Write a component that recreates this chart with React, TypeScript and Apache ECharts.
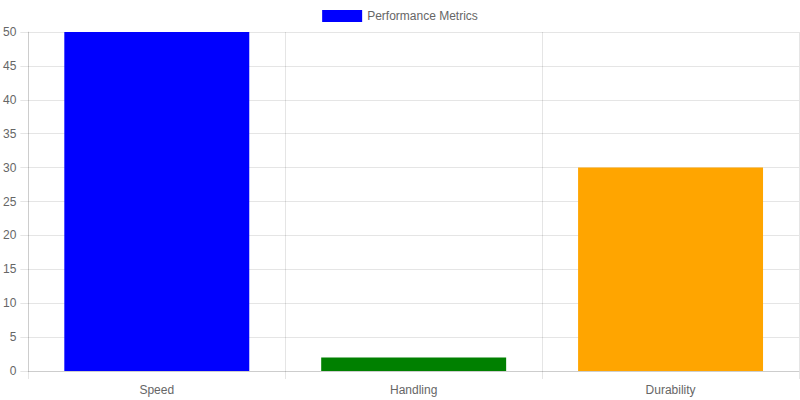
import React, { useEffect, useRef } from 'react';
import * as echarts from 'echarts';

const categories = ['Speed', 'Handling', 'Durability'];
const values = [50, 2, 30];
const barColors = ['#0000ff', '#008000', '#ffa500'];
const seriesName = 'Performance Metrics';

const gridColor = 'rgba(0,0,0,0.1)';
const labelColor = '#666';
const font = '"Liberation Sans", Arial, Helvetica, sans-serif';

const App: React.FC = () => {
  const chartRef = useRef<HTMLDivElement>(null);

  useEffect(() => {
    document.body.style.margin = '0';
    if (!chartRef.current) return;
    const chart = echarts.init(chartRef.current, undefined, { renderer: 'svg' });

    chart.setOption({
      animation: false,
      textStyle: { fontFamily: font },
      legend: {
        top: 10,
        left: 'center',
        padding: 0,
        itemWidth: 40,
        itemHeight: 12,
        itemGap: 10,
        icon: 'rect',
        textStyle: { color: labelColor, fontSize: 12, fontFamily: font },
        data: [seriesName],
      },
      grid: { left: 28, right: 1, top: 32, bottom: 29, containLabel: false },
      xAxis: {
        type: 'category',
        data: categories,
        axisLine: { show: true, lineStyle: { color: gridColor } },
        axisTick: { show: true, length: 8, lineStyle: { color: gridColor } },
        axisLabel: { color: labelColor, fontSize: 12, margin: 13, fontFamily: font },
        splitLine: { show: true, lineStyle: { color: gridColor } },
      },
      yAxis: {
        type: 'value',
        min: 0,
        max: 50,
        interval: 5,
        axisLine: { show: true, lineStyle: { color: gridColor } },
        axisTick: { show: true, length: 8, lineStyle: { color: gridColor } },
        axisLabel: { color: labelColor, fontSize: 12, margin: 12, fontFamily: font },
        splitLine: { show: true, lineStyle: { color: gridColor } },
      },
      series: [
        {
          name: seriesName,
          type: 'bar',
          barCategoryGap: '28%',
          itemStyle: { color: barColors[0] },
          data: values.map((v, i) => ({ value: v, itemStyle: { color: barColors[i] } })),
        },
      ],
    });

    return () => {
      chart.dispose();
    };
  }, []);

  return <div ref={chartRef} style={{ width: '800px', height: '400px' }} />;
};

export default App;
